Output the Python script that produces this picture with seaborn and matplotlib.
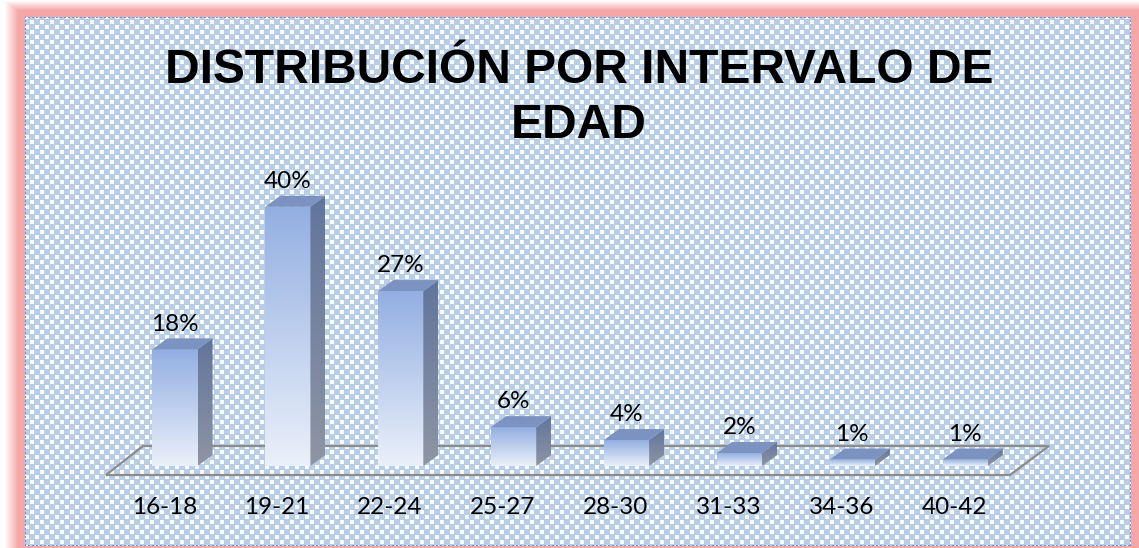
import numpy as np
import pandas as pd
import matplotlib
matplotlib.use("Agg")
import matplotlib.pyplot as plt
import seaborn as sns
from matplotlib.patches import Polygon

# ---- data ----
categories = ["16-18", "19-21", "22-24", "25-27", "28-30", "31-33", "34-36", "40-42"]
percent = [18, 40, 27, 6, 4, 2, 1, 1]
value_labels = ["18%", "40%", "27%", "6%", "4%", "2%", "1%", "1%"]
title_lines = ["DISTRIBUCIÓN POR INTERVALO DE", "EDAD"]

df = pd.DataFrame({"cat": categories, "val": percent})

sns.set_theme(style="white")
plt.rcParams["font.family"] = ["Lato", "DejaVu Sans"]

W, H, DPI = 1139, 548, 100
fig = plt.figure(figsize=(W / DPI, H / DPI), dpi=DPI)
fig.patch.set_facecolor("white")

# ---- background: pink glow frame + checker pattern ----
yy, xx = np.mgrid[0:H, 0:W]
bg = np.ones((H, W, 3))
pink = np.array([245, 166, 166]) / 255
a = np.minimum(np.clip((xx - 4) / 14.0, 0, 1), np.clip((yy - 0) / 10.0, 0, 1))[..., None]
bg = bg * (1 - a) + pink * a
x0c, x1c, y0c, y1c = 25, 1131, 17, 546
blue = np.array([185, 205, 229]) / 255
cell = 5
white = (((xx // cell) + (yy // cell)) % 2 == 0) & ((xx % cell) < 4) & ((yy % cell) < 4)
inside = (xx >= x0c) & (xx < x1c) & (yy >= y0c) & (yy < y1c)
pat = np.where(white[..., None], np.array([0.98, 0.99, 1.0]), blue)
bg = np.where(inside[..., None], pat, bg)
dot = np.array([100, 150, 235]) / 255
dmask_v = ((yy // 2) % 2 == 0) & (yy >= y0c) & (yy < y1c) & ((xx == x0c) | (xx == x1c - 1))
dmask_h = ((xx // 2) % 2 == 0) & (xx >= x0c) & (xx < x1c) & ((yy == y0c) | (yy == y1c - 1))
bg = np.where((dmask_v | dmask_h)[..., None], dot, bg)
fig.figimage(bg, xo=0, yo=0, origin="upper", zorder=-10)

# ---- axes ----
ax = fig.add_axes([118.5 / W, (H - 466) / H, 903.2 / W, 45 * 6.48 / H])
ax.set_zorder(5)
ax.set_facecolor("none")
sns.barplot(data=df, x="cat", y="val", width=0.4, color="#C9D6EF",
            linewidth=0, ax=ax, zorder=2)
bars = list(ax.patches)
ax.set_xlim(-0.5, 7.5)
ax.set_ylim(0, 45)
for s in ax.spines.values():
    s.set_visible(False)
ax.set_yticks([])
ax.set_xlabel("")
ax.set_ylabel("")

dx, dy = 15 / 112.9, 11 / 6.48

def grad_img(c_top, c_bot, n=64):
    c_top = np.array(matplotlib.colors.to_rgb(c_top))
    c_bot = np.array(matplotlib.colors.to_rgb(c_bot))
    t = np.linspace(0, 1, n)[:, None]
    return (c_top * (1 - t) + c_bot * t)[:, None, :]

# floor outline (behind bars)
floor = Polygon([(-0.611, -1.39), (-0.283, 3.09), (7.742, 3.09), (7.396, -1.39)],
                closed=True, fill=False, edgecolor="#8C8C8C", linewidth=1.6,
                clip_on=False, zorder=0.5)
ax.add_patch(floor)

for p, lab in zip(bars, value_labels):
    x0 = p.get_x()
    w = p.get_width()
    h = p.get_height()
    # front face gradient
    im = ax.imshow(grad_img("#93AFE2", "#EAF0FA"), extent=[x0, x0 + w, 0, h],
                   aspect="auto", interpolation="bilinear", zorder=2.1)
    im.set_clip_path(p)
    # side face
    side = Polygon([(x0 + w, 0), (x0 + w + dx, dy), (x0 + w + dx, h + dy), (x0 + w, h)],
                   closed=True, facecolor="none", edgecolor="none", zorder=2.2)
    ax.add_patch(side)
    ims = ax.imshow(grad_img("#62759C", "#8E95A4"), extent=[x0 + w, x0 + w + dx, 0, h + dy],
                    aspect="auto", interpolation="bilinear", zorder=2.2)
    ims.set_clip_path(side)
    # top face
    top = Polygon([(x0, h), (x0 + w, h), (x0 + w + dx, h + dy), (x0 + dx, h + dy)],
                  closed=True, facecolor="#7C93C2", edgecolor="none", zorder=2.3)
    ax.add_patch(top)
    ax.annotate(lab, (x0 + w / 2, h + dy), xytext=(0, 5.5), textcoords="offset points",
                ha="center", va="baseline", fontsize=17.5, color="black", zorder=5)

ax.set_xlim(-0.5, 7.5)
ax.set_ylim(0, 45)
ax.set_xticks(np.arange(len(categories)) - 0.095)
ax.set_xticklabels(categories, fontsize=17.5, color="black")
ax.tick_params(axis="x", length=0, pad=22)

# ---- title ----
for line, ybase in zip(title_lines, [83, 138]):
    fig.text(579 / W, 1 - ybase / H, line, ha="center", va="baseline",
             fontsize=34.5, fontweight="bold", family=["Liberation Sans", "DejaVu Sans"],
             color="black")

fig.savefig("out.png", dpi=DPI)
